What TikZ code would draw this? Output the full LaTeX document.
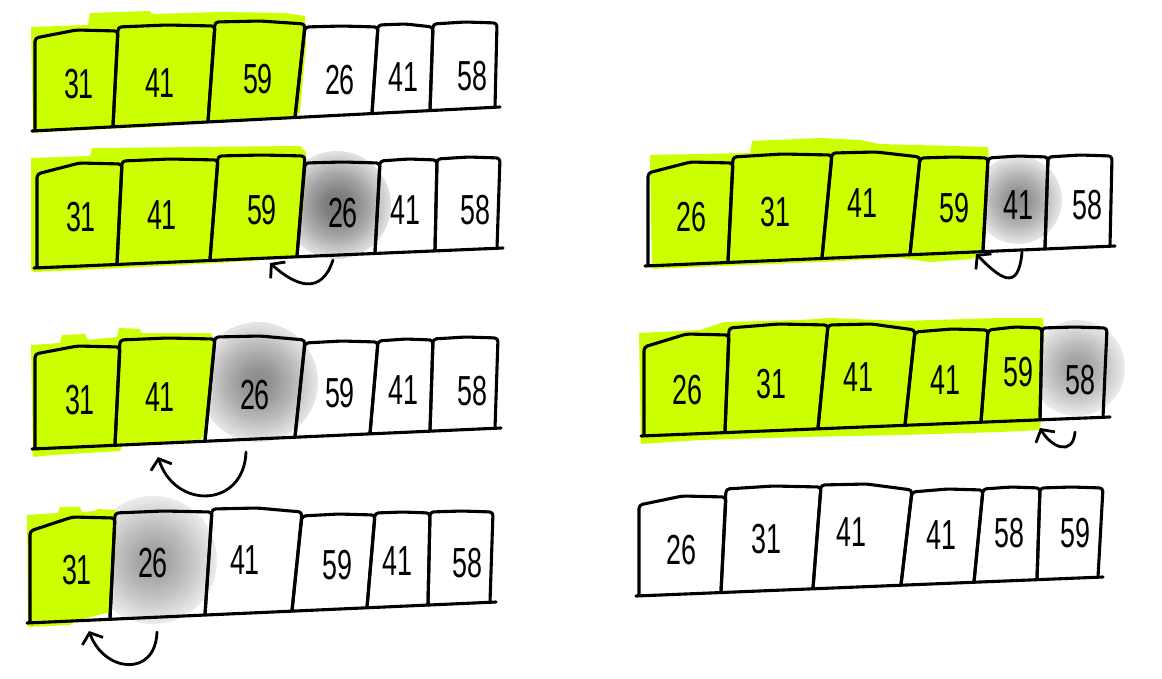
\documentclass[tikz,border=0pt]{standalone}
\usepackage{fontspec}
\usepackage{graphicx}
\setmainfont{Liberation Sans}
\usetikzlibrary{arrows.meta}
\definecolor{hilite}{HTML}{CCFF00}
\pgfdeclareradialshading{blobdark}{\pgfpoint{0bp}{0bp}}{color(0bp)=(black!54); color(6bp)=(black!50); color(15bp)=(black!34); color(24bp)=(black!13); color(32bp)=(white); color(50bp)=(white)}
\pgfdeclareradialshading{blobmid}{\pgfpoint{0bp}{0bp}}{color(0bp)=(black!46); color(6bp)=(black!42); color(15bp)=(black!28); color(24bp)=(black!11); color(32bp)=(white); color(50bp)=(white)}
\pgfdeclareradialshading{bloblight}{\pgfpoint{0bp}{0bp}}{color(0bp)=(black!38); color(6bp)=(black!35); color(15bp)=(black!23); color(24bp)=(black!9); color(32bp)=(white); color(50bp)=(white)}
\newcommand\digitsq[1]{\scalebox{0.64}[1]{#1}}
\tikzset{
  cellline/.style={line width=3.1pt, line cap=round, line join=round, rounded corners=3.5pt},
  floorline/.style={line width=3.1pt, line cap=round},
  digit/.style={font=\fontsize{42}{42}\selectfont, inner sep=0pt, text=black},
  swaparrow/.style={line width=2.8pt, line cap=round,
    -{Straight Barb[length=9pt,width=22pt,line width=2.8pt]}},
  hl/.style={fill=hilite, draw=none},
}
% #1 name, #2 xL, #3 yL, #4 xR, #5 yR, #6 cells
\newcommand\sortrow[6]{%
  \draw[floorline] (#2-3,#3+1) -- (#4+3,#5);
  \foreach \xlt/\xlb/\xrt/\xrb/\tl/\tr/\lx/\ly/\lab [count=\i] in {#6} {
    \pgfmathsetmacro\ybl{#3+(#5-#3)*(\xlb-#2)/(#4-#2)}
    \pgfmathsetmacro\ybr{#3+(#5-#3)*(\xrb-#2)/(#4-#2)}
    \pgfmathsetmacro\xm{(\xlt+\xrt)/2}
    \pgfmathsetmacro\tm{min(\tl,\tr)-1}
    \draw[cellline] (\xlb,\ybl) -- (\xlt,\tl) -- (\xm,\tm) -- (\xrt,\tr) -- (\xrb,\ybr);
    \node[digit] (#1n\i) at (\lx,\ly) {\digitsq{\lab}};
  }%
}
\begin{document}
\begin{tikzpicture}[x=1pt,y=-1pt]
\useasboundingbox[fill=white] (0,0) rectangle (1162,678);

% gray blobs (moved element)
\shade[shading=blobdark] (337,205) circle (54);
\shade[shading=blobmid] (258,382) circle (60);
\shade[shading=bloblight] (153,560) circle (64);
\shade[shading=blobmid] (1018,200) circle (44);
\shade[shading=bloblight] (1077,368) circle (48);

% green highlights (sorted part)
\fill[hl] (31,27) -- (88,25) -- (90,13) -- (150,11) -- (152,14) -- (220,12) -- (285,13) -- (305,16) -- (306,45) -- (300,112) -- (296,118) -- (200,123) -- (150,127) -- (60,131) -- (33,133) -- cycle;
\fill[hl] (31,158) -- (90,156) -- (92,148) -- (300,146) -- (306,152) -- (304,200) -- (298,253) -- (296,258) -- (200,264) -- (100,269) -- (35,272) -- (31,270) -- cycle;
\fill[hl] (31,345) -- (60,343) -- (62,335) -- (85,334) -- (88,340) -- (117,337) -- (119,328) -- (140,329) -- (142,333) -- (211,333) -- (214,345) -- (206,433) -- (200,440) -- (122,446) -- (120,451) -- (52,455) -- (33,457) -- cycle;
\fill[hl] (27,515) -- (58,513) -- (60,507) -- (80,507) -- (82,512) -- (96,511) -- (97,509) -- (116,510) -- (116,540) -- (110,612) -- (75,621) -- (70,625) -- (28,627) -- cycle;
\fill[hl] (650,155) -- (750,153) -- (752,141) -- (820,138) -- (860,140) -- (880,144) -- (988,147) -- (989,160) -- (984,240) -- (982,252) -- (972,259) -- (930,262) -- (900,258) -- (820,262) -- (700,267) -- (652,269) -- cycle;
\fill[hl] (639,333) -- (700,330) -- (724,322) -- (800,320) -- (830,318) -- (900,321) -- (1000,318) -- (1043,318) -- (1044,330) -- (1041,418) -- (1040,430) -- (1000,432) -- (900,435) -- (800,437) -- (700,440) -- (641,444) -- cycle;

% rows of cells
\sortrow{ra}{35}{130}{497}{107}{35/35/118/113/38/31/79/84/31, 118/113/215/208/27/26/160/83/41, 215/208/305/295/22/24/258/79/59, 305/295/378/372/27/27/340/80/26, 378/372/433/430/25/27/403/77/41, 433/430/497/495/24/23/472/76/58}
\sortrow{rb}{37}{267}{500}{248}{37/37/122/117/174/164/81/217/31, 122/117/218/210/161/160/162/215/41, 218/210/305/297/156/156/262/210/59, 305/297/380/375/163/163/343/213/26, 380/375/437/435/161/160/405/210/41, 437/435/500/497/159/158/475/210/58}
\sortrow{rc}{35}{448}{498}{428}{35/35/120/115/354/347/80/400/31, 120/115/215/205/340/339/160/397/41, 215/205/305/295/337/340/255/395/26, 305/295/378/370/343/342/340/393/59, 378/370/433/430/341/340/403/390/41, 433/430/498/495/339/338/472/391/58}
\sortrow{rd}{30}{622}{493}{602}{30/30/115/110/531/518/77/570/31, 115/110/212/205/513/512/153/563/26, 212/205/302/292/509/512/245/560/41, 302/292/375/367/516/515/337/565/59, 375/367/430/428/513/513/397/561/41, 430/428/493/490/512/512/467/563/58}
\sortrow{re}{648}{265}{1112}{246}{648/648/733/728/173/163/691/217/26, 733/728/832/822/157/155/775/212/31, 832/822/920/910/153/157/862/203/41, 920/910/988/983/158/158/954/208/59, 988/983/1048/1045/158/157/1018/205/41, 1048/1045/1112/1110/157/156/1087/205/58}
\sortrow{rf}{644}{435}{1107}{417}{644/644/729/725/347/335/687/390/26, 729/725/828/818/328/325/771/384/31, 828/818/915/905/325/330/858/377/41, 915/905/988/981/332/330/945/380/41, 988/981/1042/1040/330/328/1018/372/59, 1042/1040/1107/1103/328/328/1080/380/58}
\sortrow{rg}{639}{595}{1100}{577}{639/639/726/721/505/497/681/550/26, 726/721/821/813/489/487/766/539/31, 821/813/912/901/485/490/851/532/41, 912/901/983/974/492/490/941/535/41, 983/974/1040/1037/489/488/1009/533/58, 1040/1037/1103/1098/488/488/1075/533/59}

% swap arrows
\coordinate (ab1) at (333,260); \coordinate (ab2) at (270,263);
\coordinate (ac1) at (246,452); \coordinate (ac2) at (158,457);
\coordinate (ad1) at (157,632); \coordinate (ad2) at (89,631);
\coordinate (ae1) at (1022,252); \coordinate (ae2) at (976,254);
\coordinate (af1) at (1075,432); \coordinate (af2) at (1040,428);
\draw[swaparrow] (ab1) to[out=252,in=-42,out distance=38,in distance=34] (ab2);
\draw[swaparrow] (ac1) to[out=268,in=-72,out distance=56,in distance=56] (ac2);
\draw[swaparrow] (ad1) to[out=268,in=-70,out distance=46,in distance=44] (ad2);
\draw[swaparrow] (ae1) to[out=265,in=-45,out distance=42,in distance=33] (ae2);
\draw[swaparrow] (af1) to[out=265,in=-60,out distance=25,in distance=22] (af2);
\end{tikzpicture}
\end{document}
